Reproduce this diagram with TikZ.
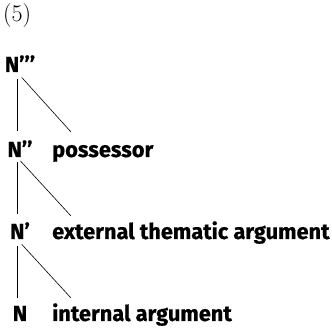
\documentclass[tikz,border=0pt]{standalone}
\usepackage{fontspec}
\newfontfamily\treefont{Fira Sans}[BoldFeatures={FakeBold=0.6}]
\tikzset{
  cat/.style={anchor=base, inner sep=0pt, font=\treefont\bfseries\fontsize{21.8}{26}\selectfont},
  role/.style={anchor=base west, inner sep=0pt, font=\treefont\bfseries\fontsize{21.8}{26}\selectfont},
  branch/.style={line width=0.6pt}
}
\begin{document}
\begin{tikzpicture}[x=1pt,y=-1pt]
    \useasboundingbox (0,0) rectangle (332,328);
    % number
    \node [anchor=base west, inner sep=0pt, font=\fontsize{24}{28}\selectfont] (num) at (3,22) {(5)};
    % lecter
    \node [cat] (n3) at (20,72) {N’’’};
    \node [cat] (n2) at (20,157) {N’’};\node [role] (poss) at (52,157) {possessor};
    \node [cat] (n1) at (20,239) {N’};\node [role] (ext) at (52,239) {external thematic argument};
    \node [cat] (n0) at (20,321) {N};\node [role] (int) at (52,321) {internal argument};
    % free ends
    \coordinate (e3) at (71,132);\coordinate (e2) at (71,216);\coordinate (e1) at (71,298);
    % line
    \draw [branch, shorten <=7pt, shorten >=9pt] ([xshift=-3pt]n3.south) -- ([xshift=-3pt]n2.north);\draw [branch, shorten <=7pt] ([xshift=-3pt]n3.south) -- (e3);
    \draw [branch, shorten <=5pt, shorten >=8pt] ([xshift=-3pt]n2.south) -- ([xshift=-3pt]n1.north);\draw [branch, shorten <=5pt] ([xshift=-3pt]n2.south) -- (e2);
    \draw [branch, shorten <=7pt, shorten >=8pt] ([xshift=-3pt]n1.south) -- ([xshift=-3pt]n0.north);\draw [branch, shorten <=7pt] ([xshift=-3pt]n1.south) -- (e1);
\end{tikzpicture}
\end{document}
